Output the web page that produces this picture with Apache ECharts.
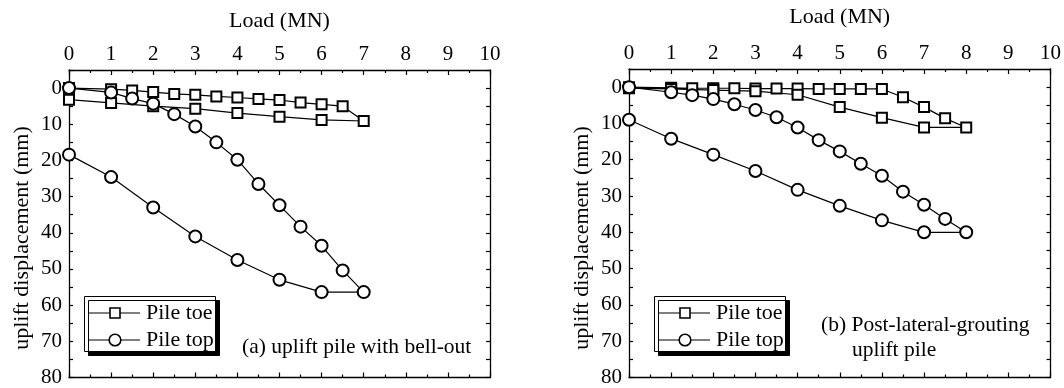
<!DOCTYPE html>
<html>
<head>
<meta charset="utf-8">
<script src="https://cdn.jsdelivr.net/npm/echarts@6/dist/echarts.min.js"></script>
<style>
  html, body { margin: 0; padding: 0; background: #fff; }
  #chart { width: 1064px; height: 388px; }
</style>
</head>
<body>
<div id="chart"></div>
<script>
// panel (a) uplift pile with bell-out
const loadA_toe = [0, 1, 1.5, 2, 2.5, 3, 3.5, 4, 4.5, 5, 5.5, 6, 6.5, 7, 6, 5, 4, 3, 2, 1, 0]
const dispA_toe = [0, 0.3, 0.65, 1.1, 1.6, 1.85, 2.3, 2.6, 3.0, 3.3, 4.0, 4.5, 5.0, 9.1, 8.8, 7.9, 6.9, 5.7, 5.0, 4.1, 3.2]
const loadA_top = [0, 1, 1.5, 2, 2.5, 3, 3.5, 4, 4.5, 5, 5.5, 6, 6.5, 7, 6, 5, 4, 3, 2, 1, 0]
const dispA_top = [0, 1.2, 2.9, 4.3, 7.2, 10.6, 15.0, 19.8, 26.5, 32.4, 38.3, 43.6, 50.4, 56.4, 56.4, 53.0, 47.5, 41.0, 33.0, 24.6, 18.4]

// panel (b) post-lateral-grouting uplift pile
const loadB_toe = [0, 1, 1.5, 2, 2.5, 3, 3.5, 4, 4.5, 5, 5.5, 6, 6.5, 7, 7.5, 8, 7, 6, 5, 4, 3, 2, 1, 0]
const dispB_toe = [0, 0.2, 0.3, 0.3, 0.3, 0.4, 0.4, 0.4, 0.5, 0.5, 0.5, 0.5, 2.8, 5.5, 8.6, 11.1, 11.1, 8.4, 5.5, 2.1, 1.1, 0.8, 0.5, 0.3]
const loadB_top = [0, 1, 1.5, 2, 2.5, 3, 3.5, 4, 4.5, 5, 5.5, 6, 6.5, 7, 7.5, 8, 7, 6, 5, 4, 3, 2, 1, 0]
const dispB_top = [0, 1.4, 2.2, 3.3, 4.7, 6.3, 8.3, 11.1, 14.6, 17.7, 21.1, 24.4, 28.8, 32.4, 36.3, 40.0, 40.0, 36.7, 32.7, 28.3, 23.1, 18.6, 14.2, 9.0]

const seriesNames = ['Pile toe', 'Pile top']
const xTicks = { min: 0, max: 10, interval: 1 }
const yTicks = { min: -5, max: 80, interval: 5 }

const font = 'Liberation Serif'

function zip(xs, ys) {
  return xs.map((x, i) => [x, ys[i]])
}

function xAxes(grid, gap) {
  return [
    {
      gridIndex: grid, type: 'value', position: 'top',
      min: xTicks.min, max: xTicks.max, interval: xTicks.interval,
      name: 'Load (MN)', nameLocation: 'middle', nameGap: gap,
      nameTextStyle: { fontFamily: font, fontSize: 22, color: '#000' },
      axisLine: { onZero: false, lineStyle: { color: '#000', width: 1.3 } },
      axisTick: { inside: true, length: 5, lineStyle: { color: '#000', width: 1.2 } },
      minorTick: { show: true, splitNumber: 2, length: 3, lineStyle: { color: '#000', width: 1.2 } },
      axisLabel: { fontFamily: font, fontSize: 21, color: '#000', margin: 5 },
      splitLine: { show: false }
    },
    {
      gridIndex: grid, type: 'value', position: 'bottom',
      min: xTicks.min, max: xTicks.max, interval: xTicks.interval,
      axisLine: { onZero: false, lineStyle: { color: '#000', width: 1.3 } },
      axisTick: { inside: true, length: 5, lineStyle: { color: '#000', width: 1.2 } },
      minorTick: { show: true, splitNumber: 2, length: 3, lineStyle: { color: '#000', width: 1.2 } },
      axisLabel: { show: false },
      splitLine: { show: false }
    }
  ]
}

function yAxes(grid) {
  return [
    {
      gridIndex: grid, type: 'value', position: 'left', inverse: true,
      min: yTicks.min, max: yTicks.max, interval: yTicks.interval,
      axisLine: { onZero: false, lineStyle: { color: '#000', width: 1.3 } },
      axisTick: { inside: true, length: 4, lineStyle: { color: '#000', width: 1.2 } },
      axisLabel: {
        fontFamily: font, fontSize: 21, color: '#000', margin: 7,
        formatter: v => (v >= 0 && v % 10 === 0) ? v : ''
      },
      splitLine: { show: false }
    },
    {
      gridIndex: grid, type: 'value', position: 'right', inverse: true,
      min: yTicks.min, max: yTicks.max, interval: yTicks.interval,
      axisLine: { onZero: false, lineStyle: { color: '#000', width: 1.3 } },
      axisTick: { inside: true, length: 4, lineStyle: { color: '#000', width: 1.2 } },
      axisLabel: { show: false },
      splitLine: { show: false }
    }
  ]
}

function lineSeries(name, data, axisIdx, symbol, size) {
  return {
    name: name,
    type: 'line',
    xAxisIndex: axisIdx,
    yAxisIndex: axisIdx,
    data: data,
    symbol: symbol,
    symbolSize: size,
    showAllSymbol: true,
    lineStyle: { color: '#000', width: 1.2 },
    itemStyle: { color: '#000', borderWidth: 1.6 },
    emphasis: { disabled: true }
  }
}

// key box drawn as plain graphics: framed box with a hard shadow, sample lines with markers, labels
function legendBox(left, top) {
  const stroke = { stroke: '#000', lineWidth: 1.2 }
  const marker = { fill: '#fff', stroke: '#000', lineWidth: 1.6 }
  return [
    {
      type: 'rect', z: 11,
      shape: { x: left + 0.5, y: top + 0.5, width: 131, height: 55 },
      style: {
        fill: '#fff', stroke: '#000', lineWidth: 1,
        shadowColor: '#000', shadowBlur: 0, shadowOffsetX: 4, shadowOffsetY: 4
      }
    },
    { type: 'line', z: 12, shape: { x1: left + 5, y1: top + 17, x2: left + 56, y2: top + 17 }, style: stroke },
    { type: 'rect', z: 13, shape: { x: left + 26, y: top + 12, width: 10, height: 10 }, style: marker },
    { type: 'line', z: 12, shape: { x1: left + 5, y1: top + 44, x2: left + 56, y2: top + 44 }, style: stroke },
    { type: 'circle', z: 13, shape: { cx: left + 31, cy: top + 44, r: 5.8 }, style: marker },
    note(seriesNames[0], left + 62, top + 6, 22),
    note(seriesNames[1], left + 62, top + 33, 22)
  ]
}

function note(text, left, top, size) {
  return {
    type: 'text', left: left, top: top, z: 14,
    style: { text: text, fontFamily: font, fontSize: size || 21.5, fill: '#000' }
  }
}

function yTitle(x) {
  return {
    type: 'text', x: x, y: 238, rotation: Math.PI / 2,
    style: {
      text: 'uplift displacement (mm)', fontFamily: font, fontSize: 22, fill: '#000',
      align: 'center', verticalAlign: 'middle'
    }
  }
}

const myChart = echarts.init(document.getElementById('chart'), null, { renderer: 'canvas' })

myChart.setOption({
  animation: false,
  backgroundColor: '#fff',
  textStyle: { fontFamily: font },
  grid: [
    { left: 69, top: 70, width: 421, height: 308 },
    { left: 629, top: 69, width: 422, height: 309 }
  ],
  xAxis: xAxes(0, 38).concat(xAxes(1, 41)),
  yAxis: yAxes(0).concat(yAxes(1)),
  graphic: [
    yTitle(22),
    yTitle(582),
    note('(a) uplift pile with bell-out', 242, 336),
    note('(b) Post-lateral-grouting', 821, 314),
    note('uplift pile', 852, 339)
  ].concat(legendBox(84, 296), legendBox(654, 296)),
  series: [
    lineSeries('Pile toe', zip(loadA_toe, dispA_toe), 0, 'emptyRect', 10),
    lineSeries('Pile top', zip(loadA_top, dispA_top), 0, 'emptyCircle', 12),
    lineSeries('Pile toe', zip(loadB_toe, dispB_toe), 2, 'emptyRect', 10),
    lineSeries('Pile top', zip(loadB_top, dispB_top), 2, 'emptyCircle', 12)
  ]
})
</script>
</body>
</html>
